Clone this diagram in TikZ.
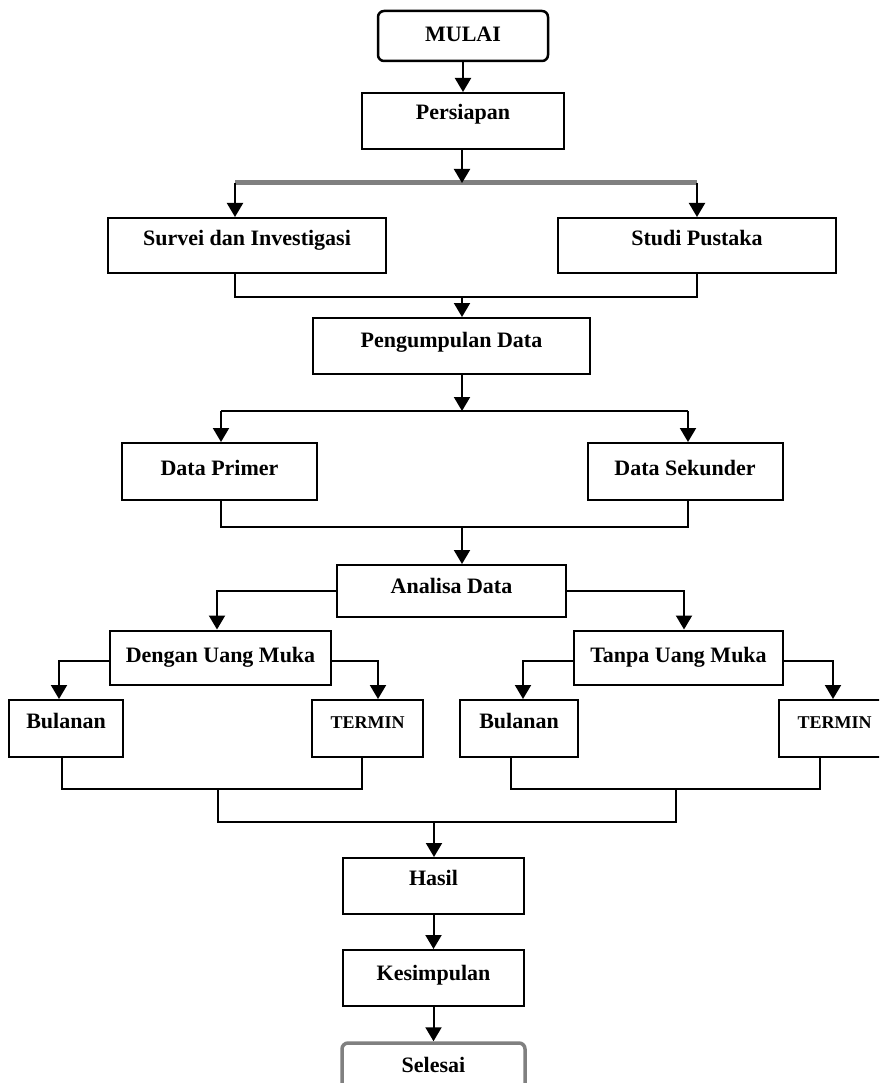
\documentclass[tikz,border=0pt]{standalone}
\usepackage{fontspec}
\setmainfont{Liberation Serif}
\usetikzlibrary{arrows.meta}
\begin{document}
\begin{tikzpicture}[x=1pt,y=-1pt,
  box/.style={draw=black, line width=2pt, inner sep=0pt, font=\fontsize{22}{26}\selectfont\bfseries, text height=15pt},
  small/.style={font=\fontsize{18}{22}\selectfont\bfseries},
  arr/.style={line width=2pt, -{Triangle[width=16pt,length=14pt]}},
  ln/.style={line width=2pt},
  bar/.style={line width=5pt, draw=gray}]
\useasboundingbox (0,0) rectangle (879,1083);
\clip (0,0) rectangle (879,1083);
% boxes
\node[box, rounded corners=6pt, line width=2.5pt, minimum width=170pt, minimum height=50pt, text depth=3pt] (mulai) at (463,36) {MULAI};
\node[box, minimum width=202pt, minimum height=56pt, text depth=17pt] (persiapan) at (463,121) {Persiapan};
\node[box, minimum width=278pt, minimum height=55pt, text depth=14pt] (survei) at (247,245.5) {Survei dan Investigasi};
\node[box, minimum width=278pt, minimum height=55pt, text depth=14pt] (studi) at (697,245.5) {Studi Pustaka};
\node[box, minimum width=277pt, minimum height=56pt, text depth=13pt] (pengumpulan) at (451.5,346) {Pengumpulan Data};
\node[box, minimum width=195pt, minimum height=57pt, text depth=8pt] (primer) at (219.5,471.5) {Data Primer};
\node[box, minimum width=195pt, minimum height=57pt, text depth=8pt] (sekunder) at (685,471.5) {Data Sekunder};
\node[box, minimum width=229pt, minimum height=52pt, text depth=11pt] (analisa) at (451.5,591) {Analisa Data};
\node[box, minimum width=221pt, minimum height=54pt, text depth=6pt] (dengan) at (220.5,657.5) {Dengan Uang Muka};
\node[box, minimum width=209pt, minimum height=54pt, text depth=6pt] (tanpa) at (678.5,657.5) {Tanpa Uang Muka};
\node[box, minimum width=114pt, minimum height=57pt, text depth=16pt] (bulL) at (66,728.5) {Bulanan};
\node[box, small, minimum width=111pt, minimum height=57pt, text depth=16pt] (termL) at (367.5,728.5) {TERMIN};
\node[box, minimum width=118pt, minimum height=57pt, text depth=16pt] (bulR) at (519,728.5) {Bulanan};
\node[box, small, minimum width=111pt, minimum height=57pt, text depth=16pt] (termR) at (834.5,728.5) {TERMIN};
\node[box, minimum width=181pt, minimum height=56pt, text depth=17pt] (hasil) at (433.5,886) {Hasil};
\node[box, minimum width=181pt, minimum height=56pt, text depth=11pt] (kesim) at (433.5,978) {Kesimpulan};
\node[box, draw=gray, line width=3.5pt, rounded corners=6pt, minimum width=183pt, minimum height=56pt, text depth=13pt] (selesai) at (433.5,1071) {Selesai};
% junction coordinates
\coordinate (j1) at (462,183);
\coordinate (b1l) at (235,183);
\coordinate (b1r) at (697,183);
\coordinate (m1) at (462,297);
\coordinate (j2) at (462,411);
\coordinate (b2l) at (221,411);
\coordinate (b2r) at (688,411);
\coordinate (m2) at (462,527);
\coordinate (al) at (217,591);
\coordinate (ar) at (684,591);
\coordinate (dl) at (59,661);
\coordinate (dr) at (378,661);
\coordinate (tl) at (523,661);
\coordinate (tr) at (833,661);
\coordinate (pbl) at (62,789);
\coordinate (ptl) at (362,789);
\coordinate (pbr) at (511,789);
\coordinate (ptr) at (820,789);
\coordinate (dL) at (218,789);
\coordinate (dR) at (676,789);
\coordinate (m3) at (434,822);
% connectors
\draw[arr] (mulai.south) -- (persiapan.north);
\draw[bar] (b1l) -- (b1r);
\draw[arr] (j1 |- persiapan.south) -- (j1);
\draw[arr] (b1l) -- (b1l |- survei.north);
\draw[arr] (b1r) -- (b1r |- studi.north);
\draw[ln] (b1l |- survei.south) |- (m1) -| (b1r |- studi.south);
\draw[arr] (m1) -- (m1 |- pengumpulan.north);
\draw[arr] (j2 |- pengumpulan.south) -- (j2);
\draw[ln] (b2l) -- (b2r);
\draw[arr] (b2l) -- (b2l |- primer.north);
\draw[arr] (b2r) -- (b2r |- sekunder.north);
\draw[ln] (b2l |- primer.south) |- (m2) -| (b2r |- sekunder.south);
\draw[arr] (m2) -- (m2 |- analisa.north);
\draw[arr] (analisa.west) -| (al |- dengan.north);
\draw[arr] (analisa.east) -| (ar |- tanpa.north);
\draw[arr] (dl -| dengan.west) -| (dl |- bulL.north);
\draw[arr] (dr -| dengan.east) -| (dr |- termL.north);
\draw[arr] (tl -| tanpa.west) -| (tl |- bulR.north);
\draw[arr] (tr -| tanpa.east) -| (tr |- termR.north);
\draw[ln] (pbl |- bulL.south) -- (pbl) -- (ptl) -- (ptl |- termL.south);
\draw[ln] (pbr |- bulR.south) -- (pbr) -- (ptr) -- (ptr |- termR.south);
\draw[ln] (dL) |- (m3) -| (dR);
\draw[arr] (m3) -- (m3 |- hasil.north);
\draw[arr] (hasil.south) -- (kesim.north);
\draw[arr] (kesim.south) -- (selesai.north);
\end{tikzpicture}
\end{document}
